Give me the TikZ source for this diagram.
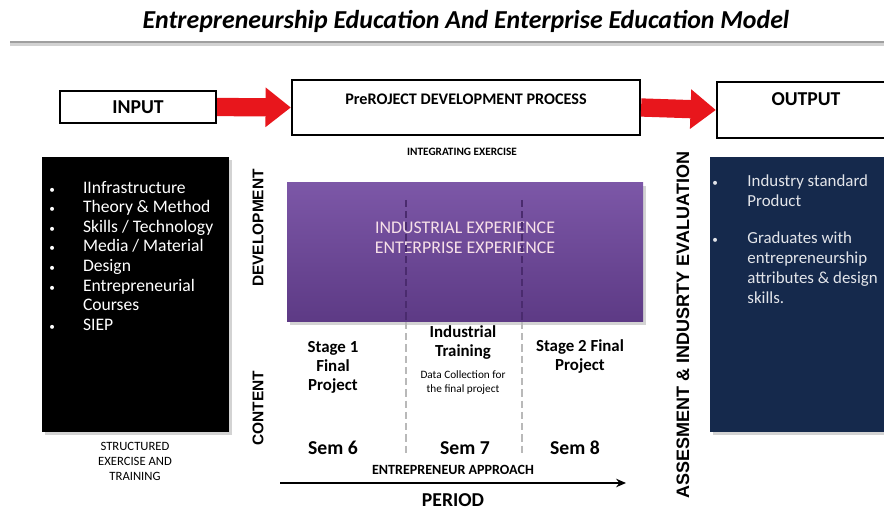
\documentclass[tikz,border=0pt]{standalone}
\usepackage{fontspec}
\setmainfont{Carlito}
\newfontfamily\arialfont{Liberation Sans}
\usetikzlibrary{arrows.meta, fit, positioning, shadows}

\definecolor{navybox}{HTML}{15294C}
\definecolor{purpletop}{HTML}{7C57A7}
\definecolor{purplebot}{HTML}{5D3A85}
\definecolor{arrowred}{HTML}{E8161C}
\definecolor{dashpurple}{HTML}{4A2B6E}

\begin{document}
\begin{tikzpicture}[x=0.025cm, y=-0.025cm, inner sep=0pt,
		frame/.style={draw, line width=1.6pt},
		bigarrow/.style={arrowred, line width=13pt, -{Triangle[length=18pt, width=27pt]}},
		panel/.style={drop shadow={shadow xshift=2pt, shadow yshift=-2pt, opacity=.35}},
		heading/.style={font=\bfseries\fontsize{14}{16}\selectfont},
		stagetext/.style={font=\bfseries\fontsize{12}{13.5}\selectfont, align=center},
		semtext/.style={font=\bfseries\fontsize{14}{16}\selectfont},
		sidetext/.style={font=\arialfont\bfseries\fontsize{11}{13}\selectfont, rotate=90},
		divider/.style={dashed, dash pattern=on 5pt off 3pt, line width=1pt}]
		\useasboundingbox (0,0) rectangle (884,510);
		
		% title
		\node[font=\bfseries\itshape\fontsize{18.4}{21}\selectfont] (title) at (466,21) {Entrepreneurship Education And Enterprise Education Model};
		\fill[gray!35] (10,41) rectangle (884,46);
		\fill[gray!75] (10,41) rectangle (884,43.5);
		
		% top row
		\node[frame, fit={(60,91) (216,123)}] (input) {};
		\node[heading] (inputtext) at (input.center) {INPUT};
		\node[frame, fit={(292,80) (640,135)}] (process) {};
		\node[font=\bfseries\fontsize{11.5}{13}\selectfont] (processtext) at (466,99) {PreROJECT DEVELOPMENT PROCESS};
		\node[frame, fit={(717,82) (900,138)}] (output) {};
		\node[heading] (outputtext) at (806,99) {OUTPUT};
		\draw[bigarrow] (input.east) -- (process.west);
		\draw[bigarrow] (process.east) -- (output.west);
		\node[font=\bfseries\fontsize{8}{10}\selectfont] (integrating) at (462,152) {INTEGRATING EXERCISE};
		
		% input panel
		\node[panel, fill=black, fit={(42,157) (229,432)}] (inbox) {};
		\node[anchor=north west, text=white, align=left, font=\fontsize{12.5}{13.9}\selectfont] (inlist) at (49,181) {%
			\makebox[24pt][l]{\footnotesize\textbullet}IInfrastructure\\
			\makebox[24pt][l]{\footnotesize\textbullet}Theory \& Method\\
			\makebox[24pt][l]{\footnotesize\textbullet}Skills / Technology\\
			\makebox[24pt][l]{\footnotesize\textbullet}Media / Material\\
			\makebox[24pt][l]{\footnotesize\textbullet}Design\\
			\makebox[24pt][l]{\footnotesize\textbullet}Entrepreneurial\\
			\makebox[24pt][l]{}Courses\\
			\makebox[24pt][l]{\footnotesize\textbullet}SIEP};
		\node[align=center, font=\fontsize{9}{10.7}\selectfont] (structured) at (135,461) {STRUCTURED\\EXERCISE AND\\TRAINING};
		
		% side labels
		\node[sidetext] (development) at (258,228) {DEVELOPMENT};
		\node[sidetext] (content) at (258,408) {CONTENT};
		\node[sidetext, font=\arialfont\bfseries\fontsize{12.8}{14}\selectfont] (assessment) at (683,325) {ASSESMENT \& INDUSRTY EVALUATION};
		
		% experience panel
		\node[panel, top color=purpletop, bottom color=purplebot, fit={(287,183) (643,322)}] (experience) {};
		\node[align=center, text=white!88!purple, font=\fontsize{12.7}{14.2}\selectfont] (experiencetext) at (465,238) {INDUSTRIAL EXPERIENCE\\ENTERPRISE EXPERIENCE};
		
		\coordinate (d1top) at (406,200);
		\coordinate (d1mid) at (406,322);
		\coordinate (d1bot) at (406,455);
		\coordinate (d2top) at (522,200);
		\coordinate (d2mid) at (522,322);
		\coordinate (d2bot) at (522,455);
		\draw[divider, dashpurple] (d1top) -- (d1mid);
		\draw[divider, dashpurple] (d2top) -- (d2mid);
		\draw[divider, gray!55] (d1mid) -- (d1bot);
		\draw[divider, gray!55] (d2mid) -- (d2bot);
		
		% stages
		\node[stagetext] (stage1) at (333,367) {Stage 1\\Final\\Project};
		\node[stagetext] (training) at (463,343) {Industrial\\Training};
		\node[align=center, font=\fontsize{8}{10}\selectfont] (datacollect) at (463,383) {Data Collection for\\the final project};
		\node[stagetext] (stage2) at (580,357) {Stage 2 Final\\Project};
		\node[semtext] (sem6) at (333,448) {Sem 6};
		\node[semtext] (sem7) at (465,448) {Sem 7};
		\node[semtext] (sem8) at (575,448) {Sem 8};
		\node[font=\bfseries\fontsize{10}{12}\selectfont] (approach) at (453,470) {ENTREPRENEUR APPROACH};
		
		\coordinate (periodstart) at (280,483);
		\coordinate (periodend) at (626,483);
		\draw[line width=1.2pt, -{Stealth[length=7pt, width=6pt]}] (periodstart) -- (periodend);
		\node[font=\bfseries\fontsize{14}{16}\selectfont] (period) at (453,500) {PERIOD};
		
		% output panel
		\node[panel, fill=navybox, fit={(710,157) (900,432)}] (outbox) {};
		\node[anchor=north west, text=white!88!navybox, align=left, font=\fontsize{12}{14.2}\selectfont] (outlist) at (712,175) {%
			\makebox[25pt][l]{\footnotesize\textbullet}Industry standard\\
			\makebox[25pt][l]{}Product\\[12pt]
			\makebox[25pt][l]{\footnotesize\textbullet}Graduates with\\
			\makebox[25pt][l]{}entrepreneurship\\
			\makebox[25pt][l]{}attributes \& design\\
			\makebox[25pt][l]{}skills.};
	\end{tikzpicture}
\end{document}
